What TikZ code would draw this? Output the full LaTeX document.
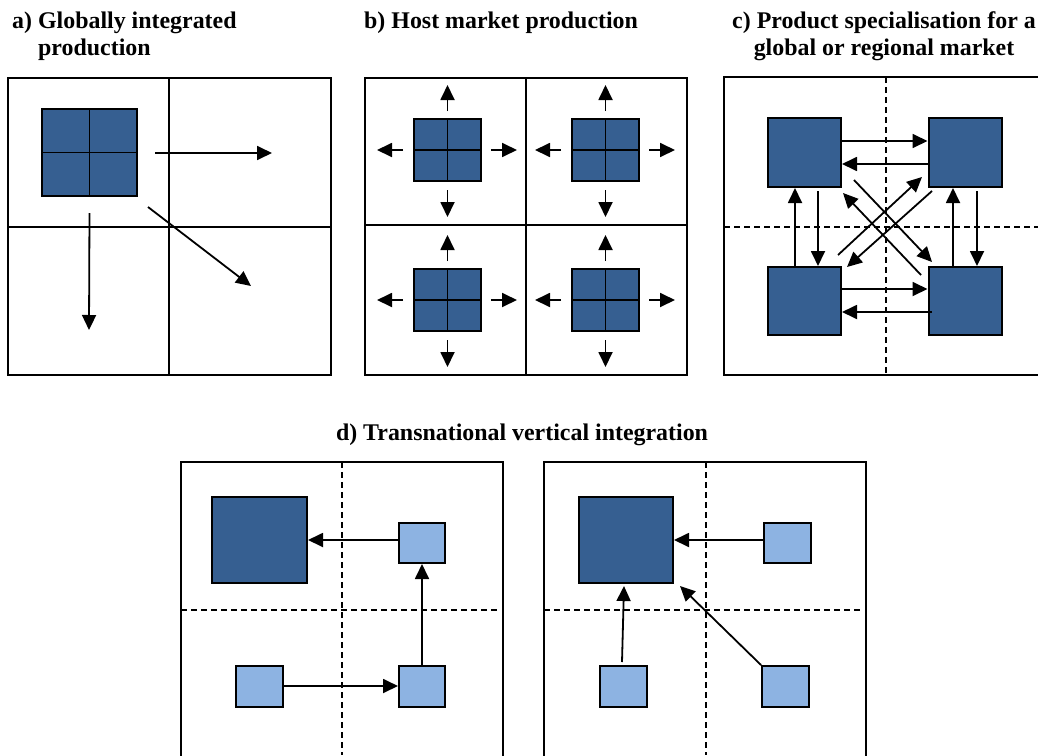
\documentclass[tikz,border=0pt]{standalone}
\usepackage{fontspec}
\setmainfont{Liberation Serif}
\usetikzlibrary{arrows.meta}
\definecolor{darkblue}{RGB}{54,95,145}
\definecolor{lightblue}{RGB}{141,179,226}
\begin{document}
\begin{tikzpicture}[x=1pt,y=-1pt,
  frame/.style={line width=2pt},
  divider/.style={line width=1.8pt},
  dashline/.style={line width=1.7pt, dash pattern=on 6pt off 4pt},
  arr/.style={line width=1.8pt, -{Triangle[length=15pt,width=14pt]}},
  dq/.style={draw, line width=2pt, fill=darkblue, inner sep=0pt},
  lq/.style={draw, line width=2pt, fill=lightblue, inner sep=0pt},
  title/.style={inner sep=0pt, font=\fontsize{23.9}{27}\selectfont\bfseries}]
\useasboundingbox (0,0) rectangle (1038,755);

% ---------- a) ----------
\node[title, anchor=base west] (ta1) at (12,28) {a) Globally integrated};
\node[title, anchor=base west] (ta2) at (38,55) {production};
\draw[frame] (8,78) rectangle (331,375);
\draw[divider] (169,78) -- (169,375);
\draw[divider] (8,227) -- (331,227);
\node[dq, minimum width=95pt, minimum height=87pt] (aq) at (89.5,152.5) {};
\draw[divider] (aq.north) -- (aq.south);
\draw[divider] (aq.west) -- (aq.east);
\coordinate (aR) at (272,153);
\coordinate (aD) at (89,330);
\coordinate (aDR) at (251,286);
\draw[arr] ([xshift=17pt]aq.east |- 0,153) -- (aR);
\draw[arr] ([yshift=-16pt]aq.south) -- (aD);
\draw[arr] (148,207) -- (aDR);

% ---------- b) ----------
\node[title, anchor=base west] (tb) at (364,28) {b) Host market production};
\draw[frame] (365,78) rectangle (687,375);
\draw[divider] (526,78) -- (526,375);
\draw[divider] (365,225) -- (687,225);
\foreach \n/\cx/\cy in {b1/447.5/150, b2/605.5/150, b3/447.5/300, b4/605.5/300}{
  \node[dq, minimum width=67pt, minimum height=62pt] (\n) at (\cx,\cy) {};
  \draw[divider] (\n.north) -- (\n.south);
  \draw[divider] (\n.west) -- (\n.east);
  \draw[arr] ([yshift=7pt]\n.north) -- ([yshift=33pt]\n.north);
  \draw[arr] ([yshift=-8pt]\n.south) -- ([yshift=-35pt]\n.south);
  \draw[arr] ([xshift=-10pt]\n.west) -- ([xshift=-36pt]\n.west);
  \draw[arr] ([xshift=9pt]\n.east) -- ([xshift=35pt]\n.east);
}

% ---------- c) ----------
\node[title, anchor=base] (tc1) at (884,28) {c) Product specialisation for a};
\node[title, anchor=base] (tc2) at (884,55) {global or regional market};
\draw[frame] (1040,77) -- (724,77) -- (724,375) -- (1040,375);
\draw[dashline] (886,77) -- (886,375);
\draw[dashline] (724,227) -- (1038,227);
\node[dq, minimum width=73pt, minimum height=69pt] (TL) at (804.5,152.5) {};
\node[dq, minimum width=73pt, minimum height=69pt] (TR) at (965,152.5) {};
\node[dq, minimum width=73pt, minimum height=68pt] (BL) at (804.5,301) {};
\node[dq, minimum width=73pt, minimum height=68pt] (BR) at (965,301) {};
\draw[arr] (TL.east |- 0,141) -- (TR.west |- 0,141);
\draw[arr] (TR.west |- 0,164) -- (TL.east |- 0,164);
\draw[arr] (BL.east |- 0,289) -- (BR.west |- 0,289);
\draw[arr] ([xshift=4pt]BR.west |- 0,312) -- (BL.east |- 0,312);
\draw[arr] (BL.north -| 795,0) -- (TL.south -| 795,0);
\draw[arr] ([yshift=-3pt]TL.south -| 818,0) -- (BL.north -| 818,0);
\draw[arr] ([yshift=-3pt]TR.south -| 977,0) -- (BR.north -| 977,0);
\draw[arr] (BR.north -| 953,0) -- (TR.south -| 953,0);
\coordinate (c1s) at (854,180); \coordinate (c1e) at (932,262);
\coordinate (c2s) at (921,275); \coordinate (c2e) at (843,193);
\coordinate (c3s) at (838,255); \coordinate (c3e) at (922,177);
\coordinate (c4s) at (932,191); \coordinate (c4e) at (847,267);
\draw[arr] (c1s) -- (c1e);
\draw[arr] (c2s) -- (c2e);
\draw[arr] (c3s) -- (c3e);
\draw[arr] (c4s) -- (c4e);

% ---------- d) ----------
\node[title, anchor=base] (td) at (522,440) {d) Transnational vertical integration};
% left
\draw[frame] (181,757) -- (181,462) -- (503,462) -- (503,757);
\draw[dashline] (342,462) -- (342,755);
\draw[dashline] (181,610) -- (500,610);
\node[dq, minimum width=95pt, minimum height=86pt] (LB) at (259.5,540) {};
\node[lq, minimum width=46pt, minimum height=40pt] (L1) at (422,543) {};
\node[lq, minimum width=47pt, minimum height=41pt] (L2) at (259.5,686.5) {};
\node[lq, minimum width=46pt, minimum height=41pt] (L3) at (422,686.5) {};
\draw[arr] (L1.west |- 0,540) -- (LB.east |- 0,540);
\draw[arr] (L2.east |- 0,686) -- (L3.west |- 0,686);
\draw[arr] (L3.north) -- (L1.south);
% right
\draw[frame] (544,757) -- (544,462) -- (866,462) -- (866,757);
\draw[dashline] (706,462) -- (706,755);
\draw[dashline] (544,610) -- (863,610);
\node[dq, minimum width=94pt, minimum height=86pt] (RB) at (626,540) {};
\node[lq, minimum width=47pt, minimum height=40pt] (R1) at (787.5,543) {};
\node[lq, minimum width=47pt, minimum height=41pt] (R2) at (623.5,686.5) {};
\node[lq, minimum width=47pt, minimum height=41pt] (R3) at (785.5,686.5) {};
\coordinate (rt) at (680,586);
\draw[arr] (R1.west |- 0,540) -- (RB.east |- 0,540);
\draw[arr] ([yshift=3pt]R2.north -| 622,0) -- ([yshift=-2pt]RB.south -| 624,0);
\draw[arr] (R3.north west) -- (rt);
\end{tikzpicture}
\end{document}
